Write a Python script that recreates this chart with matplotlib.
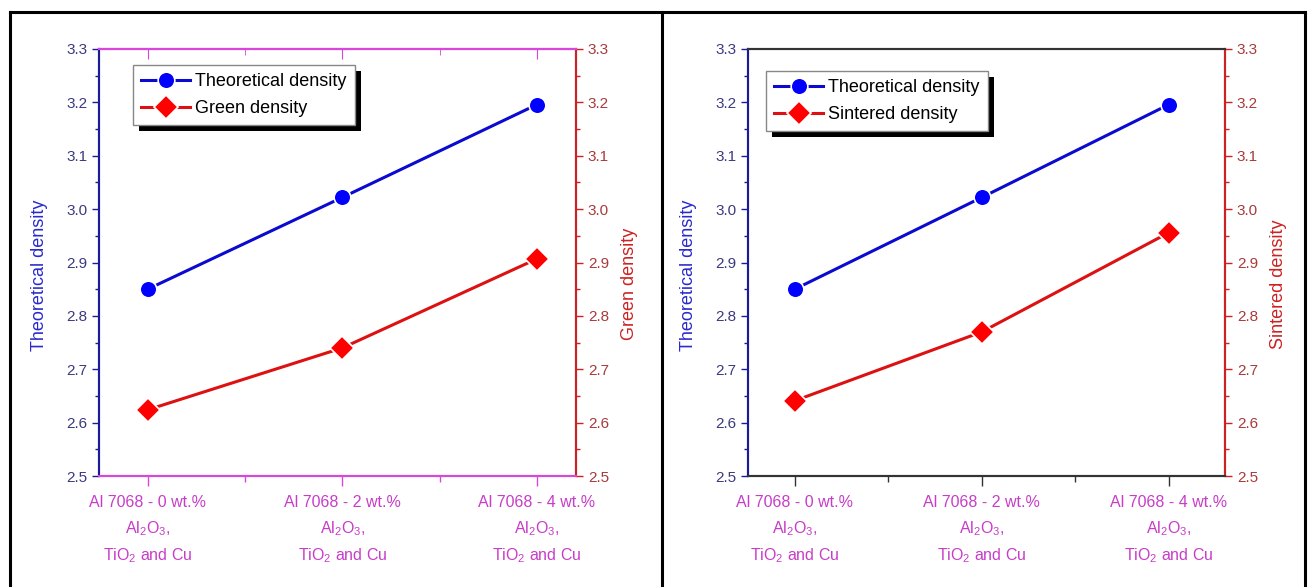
import numpy as np
import matplotlib
matplotlib.use("Agg")
import matplotlib.pyplot as plt
from matplotlib.lines import Line2D
from matplotlib.patches import Rectangle
from matplotlib.ticker import MultipleLocator

plt.rcParams['font.family'] = ['Liberation Sans', 'DejaVu Sans']
plt.rcParams['mathtext.default'] = 'regular'

# data
categories = ["Al 7068 - 0 wt.%\nAl$_2$O$_3$,\nTiO$_2$ and Cu",
              "Al 7068 - 2 wt.%\nAl$_2$O$_3$,\nTiO$_2$ and Cu",
              "Al 7068 - 4 wt.%\nAl$_2$O$_3$,\nTiO$_2$ and Cu"]
theoretical = [2.850, 3.022, 3.196]
green = [2.624, 2.740, 2.907]
sintered = [2.641, 2.770, 2.956]

W, H = 1309, 587
fig = plt.figure(figsize=(W/100, H/100), dpi=100)

BLUE_LINE = '#0a0ad0'
BLUE_MK = '#0000ff'
RED_LINE = '#dd1111'
RED_MK = '#ff0000'
MAGENTA = '#d946d9'
XLAB = '#c83cc8'
LTICK = '#3a3a80'
RTICK = '#a83a3a'


def panel(left_px, xmax, second, second_name, spine_tb, top_ticks, leg_off):
    ax = fig.add_axes([left_px/W, 111/H, 477/W, 427/H])
    ax2 = ax.twinx()
    x = np.arange(len(categories))

    ax.plot(x, theoretical, color=BLUE_LINE, lw=2.2, marker='o', ms=12,
            mfc=BLUE_MK, mec='white', mew=1.2, label='Theoretical density',
            zorder=3)
    ax2.plot(x, second, color=RED_LINE, lw=2.2, marker='D', ms=12.5,
             mfc=RED_MK, mec='white', mew=1.2, label=second_name, zorder=3)

    for a in (ax, ax2):
        a.set_ylim(2.5, 3.3)
        a.yaxis.set_major_locator(MultipleLocator(0.1))
        a.yaxis.set_minor_locator(MultipleLocator(0.05))
        a.set_xlim(-0.25, xmax)
    ax.yaxis.set_major_formatter(matplotlib.ticker.FormatStrFormatter('%.1f'))
    ax2.yaxis.set_major_formatter(matplotlib.ticker.FormatStrFormatter('%.1f'))

    ax.set_xticks(x)
    ax.set_xticklabels(categories, fontsize=11.5, color=XLAB, linespacing=1.6)
    ax.xaxis.set_minor_locator(MultipleLocator(0.5))
    ax.tick_params(axis='x', which='major', direction='out', length=7,
                   width=1, color=spine_tb, pad=7)
    ax.tick_params(axis='x', which='minor', direction='out', length=4,
                   width=1, color=spine_tb)

    ax.tick_params(axis='y', which='major', direction='out', length=5,
                   width=1, color='#1a1a9a', labelcolor=LTICK, labelsize=11)
    ax.tick_params(axis='y', which='minor', direction='out', length=3,
                   width=1, color='#1a1a9a')
    ax2.tick_params(axis='y', which='major', direction='out', length=5,
                    width=1, color='#cc2222', labelcolor=RTICK, labelsize=11)
    ax2.tick_params(axis='y', which='minor', direction='out', length=3,
                    width=1, color='#cc2222')

    for a in (ax, ax2):
        a.spines['top'].set_color(spine_tb)
        a.spines['bottom'].set_color(spine_tb)
        a.spines['left'].set_color('#1a1a9a')
        a.spines['right'].set_color('#cc2222')
        for s in a.spines.values():
            s.set_linewidth(1.5)

    if top_ticks:
        sec = ax.secondary_xaxis('top')
        sec.set_xticks(x)
        sec.set_xticklabels([])
        sec.xaxis.set_minor_locator(MultipleLocator(0.5))
        sec.tick_params(axis='x', which='major', direction='in', length=7,
                        color=spine_tb)
        sec.tick_params(axis='x', which='minor', direction='in', length=4,
                        color=spine_tb)
        sec.spines['top'].set_color(spine_tb)
        sec.spines['top'].set_linewidth(1.5)

    ax.set_ylabel('Theoretical density', color='#2a2acc', fontsize=13)
    ax2.set_ylabel(second_name, color='#cc2222', fontsize=13)
    ax.yaxis.set_label_coords(-51/477, 0.47)
    ax2.yaxis.set_label_coords(1 + 45/477, 0.45)

    h1, l1 = ax.get_legend_handles_labels()
    h2, l2 = ax2.get_legend_handles_labels()
    leg = ax2.legend(h1 + h2, l1 + l2, loc='upper left',
                     bbox_to_anchor=(leg_off[0]/477, 1 - leg_off[1]/427),
                     fontsize=13, frameon=True, fancybox=False,
                     edgecolor='#888888', framealpha=1, borderpad=0.45,
                     handlelength=2.7, handletextpad=0.3, labelspacing=0.55,
                     borderaxespad=0)
    leg.get_frame().set_linewidth(1)
    leg.set_zorder(6)
    return ax2, leg


legs = []
legs.append(panel(99, 2.2, green, 'Green density', MAGENTA, True, (34, 16)))
legs.append(panel(748, 2.3, sintered, 'Sintered density', '#333333', False, (18, 22)))

# black drop shadow behind the legend boxes
fig.canvas.draw()
for ax2, leg in legs:
    bb = leg.get_frame().get_window_extent()
    inv = ax2.transAxes.inverted()
    (x0, y0), (x1, y1) = inv.transform([[bb.x0 + 6, bb.y0 - 6], [bb.x1 + 6, bb.y1 - 6]])
    ax2.add_patch(Rectangle((x0, y0), x1 - x0, y1 - y0, transform=ax2.transAxes,
                            facecolor='black', edgecolor='none', zorder=5.5,
                            clip_on=False))

# table-like frame around the two panels
def fline(xs, ys):
    fig.add_artist(Line2D([v/W for v in xs], [1 - v/H for v in ys],
                          transform=fig.transFigure, color='black', lw=2.2))

fline([10, 1305], [12, 12])
fline([10, 10], [12, 590])
fline([662, 662], [12, 590])
fline([1305, 1305], [12, 590])

fig.savefig('out.png', dpi=100)
